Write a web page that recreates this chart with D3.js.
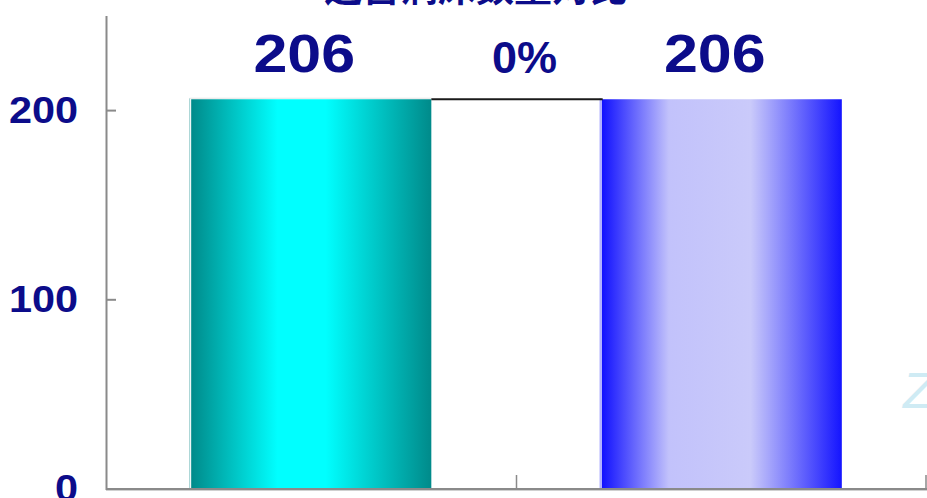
<!DOCTYPE html>
<html>
<head>
<meta charset="utf-8">
<script src="https://cdn.jsdelivr.net/npm/d3@7"></script>
<style>
  html, body { margin: 0; padding: 0; background: #fff; }
  svg { display: block; }
</style>
</head>
<body>
<svg id="chart" width="927" height="498"></svg>
<script>
// Bed counts for the two periods being compared
const categories = ["期初", "期末"];
const values = [206, 206];
const yTicks = [0, 100, 200];
const yMax = 250;
const title = "运营病床数量对比";

const W = 927, H = 498;
const svg = d3.select("#chart");
const navy = "#0c0c8a";
const axisGrey = "#8a8a8a";

const x = d3.scaleBand().domain(categories).range([106, 927]).padding(0);
const y = d3.scaleLinear().domain([0, yMax]).range([489, 16]);
const barW = x.bandwidth() * 0.585;

// Gradients for the two bars
const defs = svg.append("defs");
const gradients = [
  { id: "gTeal", stops: [[0, "#008a8a"], [0.36, "#00ffff"], [0.56, "#00ffff"], [1, "#008a8a"]] },
  { id: "gBlue", stops: [[0, "#1010ff"], [0.28, "#c2c2fb"], [0.62, "#cacafa"], [1, "#1414ff"]] }
];
gradients.forEach(g => {
  const lg = defs.append("linearGradient").attr("id", g.id)
    .attr("x1", "0%").attr("x2", "100%").attr("y1", "0%").attr("y2", "0%");
  g.stops.forEach(s => lg.append("stop").attr("offset", s[0]).attr("stop-color", s[1]));
});
const edgeColors = ["#9ccfcf", "#8c8cff"];

// Title (runs off the top edge)
svg.append("text")
  .attr("x", 476).attr("y", 1)
  .attr("text-anchor", "middle")
  .attr("font-family", "'Noto Sans CJK SC', sans-serif")
  .attr("font-weight", "bold")
  .attr("font-size", 38)
  .attr("fill", navy)
  .text(title);

// Bars
const bars = svg.append("g");
categories.forEach((c, i) => {
  const cx = x(c) + x.bandwidth() / 2;
  const x0 = cx - barW / 2;
  bars.append("rect")
    .attr("x", x0).attr("y", y(values[i]))
    .attr("width", barW).attr("height", y(0) - y(values[i]))
    .attr("fill", `url(#${gradients[i].id})`);
  // thin highlight edge on the left and top
  bars.append("line")
    .attr("x1", x0 - 1.5).attr("x2", x0 - 1.5)
    .attr("y1", y(values[i]) - 1).attr("y2", y(0))
    .attr("stroke", edgeColors[i]).attr("stroke-width", 1);
  if (i === 0) {
    bars.append("line")
      .attr("x1", x0 - 1.5).attr("x2", x0 + barW)
      .attr("y1", y(values[i]) - 1).attr("y2", y(values[i]) - 1)
      .attr("stroke", "#e4e4e4").attr("stroke-width", 1);
  }
});

// Connector between the bar tops with the change label
const xa = x(categories[0]) + x.bandwidth() / 2 + barW / 2;
const xb = x(categories[1]) + x.bandwidth() / 2 - barW / 2;
svg.append("line")
  .attr("x1", xa).attr("x2", xb + 1)
  .attr("y1", y(values[0])).attr("y2", y(values[1]))
  .attr("stroke", "#1a1a1a").attr("stroke-width", 2);

const change = (values[1] - values[0]) / values[0];
svg.append("text")
  .attr("x", (xa + xb) / 2 + 8).attr("y", 73)
  .attr("text-anchor", "middle")
  .attr("font-family", "'Liberation Sans', Arial, sans-serif")
  .attr("font-weight", "bold")
  .attr("font-size", 45)
  .attr("fill", navy)
  .text(d3.format(".0%")(change));

// Value labels
categories.forEach((c, i) => {
  const cx = x(c) + x.bandwidth() / 2 - 7;
  svg.append("text")
    .attr("transform", `translate(${cx},72) scale(1.15,1)`)
    .attr("text-anchor", "middle")
    .attr("font-family", "'Liberation Sans', Arial, sans-serif")
    .attr("font-weight", "bold")
    .attr("font-size", 53)
    .attr("fill", navy)
    .text(values[i]);
});

// Y axis
const yAxis = svg.append("g");
yAxis.append("line")
  .attr("x1", 106.5).attr("x2", 106.5).attr("y1", y(yMax)).attr("y2", y(0) + 1)
  .attr("stroke", axisGrey).attr("stroke-width", 2);
yTicks.forEach(t => {
  if (t > 0) {
    yAxis.append("line")
      .attr("x1", 106).attr("x2", 116).attr("y1", y(t)).attr("y2", y(t))
      .attr("stroke", axisGrey).attr("stroke-width", 2);
  }
  yAxis.append("text")
    .attr("transform", `translate(78,${y(t) + 12}) scale(1.12,1)`)
    .attr("text-anchor", "end")
    .attr("font-family", "'Liberation Sans', Arial, sans-serif")
    .attr("font-weight", "bold")
    .attr("font-size", 37)
    .attr("fill", navy)
    .text(t);
});

// X axis with ticks between categories
const xAxis = svg.append("g");
xAxis.append("line")
  .attr("x1", 106).attr("x2", W).attr("y1", 490.5).attr("y2", 490.5)
  .attr("stroke", "#d0d0d0").attr("stroke-width", 1);
xAxis.append("line")
  .attr("x1", 106).attr("x2", W).attr("y1", y(0)).attr("y2", y(0))
  .attr("stroke", axisGrey).attr("stroke-width", 2);
categories.forEach(c => {
  const tx = Math.min(x(c) + x.bandwidth(), W - 1);
  xAxis.append("line")
    .attr("x1", tx).attr("x2", tx).attr("y1", y(0)).attr("y2", y(0) - 14)
    .attr("stroke", axisGrey).attr("stroke-width", 1.5);
});

// Faint mark on the right edge
svg.append("text")
  .attr("x", 903).attr("y", 408)
  .attr("font-family", "'DejaVu Sans', sans-serif")
  .attr("font-style", "italic")
  .attr("font-size", 48)
  .attr("fill", "#a8dcec")
  .attr("opacity", 0.55)
  .text("Z");
</script>
</body>
</html>
